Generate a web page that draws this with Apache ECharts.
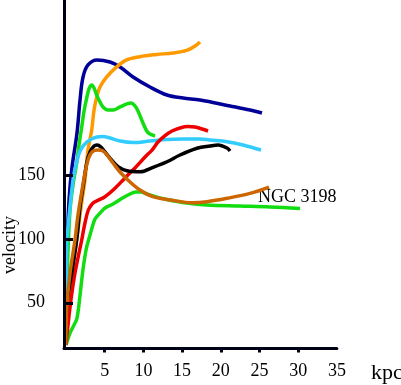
<!DOCTYPE html>
<html>
<head>
<meta charset="utf-8">
<script src="https://cdn.jsdelivr.net/npm/echarts@6/dist/echarts.min.js"></script>
<style>
html,body{margin:0;padding:0;background:#fff;}
#chart{width:401px;height:385px;}
</style>
</head>
<body>
<div id="chart"></div>
<script>
// Tick labels
const xTickValues = [5, 10, 15, 20, 25, 30];
const xLabelValues = [5, 10, 15, 20, 25, 30, 35];
const yTickValues = [50, 100, 150];
const yLabelValues = [50, 100, 150];

// Rotation curves: [radius kpc, velocity]
const navyCurve = [[0,16.7],[0.02,52.1],[0.13,91.5],[0.39,131],[0.78,157],[1.42,183.6],[1.81,209.6],[2.2,227.7],[2.84,237.2],[4.01,241.1],[5.68,239.5],[6.98,235.6],[8.66,227.7],[10.85,219.8],[13.05,213.5],[15.12,211.1],[17.31,209.6],[21.19,204.9],[23.77,201.7],[25.32,199.4]];
const orangeCurve = [[0,16.7],[0.26,52.1],[0.9,79.7],[1.55,107.2],[2.07,130.9],[2.45,146.6],[2.84,170.2],[3.32,186.0],[3.62,201.7],[3.97,212.0],[4.39,219.8],[5.26,227.7],[6.55,235.6],[7.84,241.1],[9.56,243.7],[11.72,245.4],[13.82,246.6],[15.59,248.6],[16.67,252.1],[17.31,255.3]];
const greenUpperCurve = [[0,16.7],[0.06,52.1],[0.26,91.5],[0.52,123.0],[0.9,142.7],[1.38,160.0],[1.68,174.2],[2.03,188.3],[2.33,200.9],[2.67,211.1],[2.97,218.3],[3.32,221.4],[3.62,219.1],[4.01,212.8],[4.39,208.0],[4.78,204.1],[5.43,201.7],[6.07,201.7],[6.98,204.1],[7.88,206.5],[8.40,207.2],[8.91,204.9],[9.30,200.9],[9.78,193.9],[10.43,185.2],[10.85,182.8],[11.50,181.3]];
const greenLowerCurve = [[0,16.7],[0.52,26.2],[1.03,32.4],[1.42,38.0],[1.74,52.1],[2.03,67.9],[2.33,82.0],[2.67,93.9],[3.10,103.3],[3.75,115.9],[4.39,120.6],[5.04,124.6],[6.07,127.7],[7.19,132.0],[8.01,134.8],[9.04,137.2],[9.69,137.2],[10.43,135.6],[11.50,133.6],[13.01,131.3],[15.59,128.5],[18.17,126.9],[22.48,126.1],[26.36,125.4],[30.23,124.2]];
const brownCurve = [[0,16.7],[0.1,46.6],[0.52,73.4],[1.16,99.4],[1.55,119.1],[2.07,138.7],[2.45,152.1],[2.84,162.4],[3.36,168.7],[4.13,170.2],[4.78,169.4],[5.30,166.3],[6.07,160.0],[6.98,152.9],[8.27,145.0],[9.56,138.7],[11.24,133.5],[13.44,130.9],[16.41,128.7],[18.22,129.5],[20.80,132.2],[23.77,136.1],[26.23,141.1]];
const blackCurve = [[0,16.7],[0.09,46.6],[0.74,73.4],[1.38,99.4],[1.81,125.4],[2.24,142.7],[2.67,160.0],[3.10,168.7],[3.62,173.4],[4.01,174.2],[4.52,172.6],[5.04,168.7],[5.68,163.9],[6.72,157.1],[7.88,153.9],[9.56,153.1],[11.24,156.6],[13.05,161.0],[14.73,166.3],[16.93,171.6],[18.60,173.4],[19.64,174.2],[20.80,171.8],[21.19,169.4]];
const cyanCurve = [[0,16.7],[0.03,52.1],[0.09,95.4],[0.52,125.4],[0.94,148.2],[1.29,158.4],[1.81,169.4],[2.67,176.5],[3.97,180.5],[4.78,180.9],[5.68,179.7],[6.98,177.3],[8.66,176.1],[10.85,177.3],[13.05,178.5],[15.12,178.9],[17.31,178.9],[18.60,178.1],[20.80,176.8],[22.87,174.2],[25.19,170.2]];
const redCurve = [[0,16.7],[0.52,46.6],[1.16,73.4],[2.03,99.4],[2.45,112.8],[2.88,123.0],[3.36,127.7],[3.75,129.5],[5.04,133.5],[6.33,140.1],[7.62,148.2],[8.91,156.1],[10.21,164.7],[11.11,170.2],[11.89,176.5],[12.79,181.6],[13.70,185.2],[14.73,187.6],[15.76,188.7],[16.67,188.3],[17.57,186.8],[18.35,185.2]];

const curveNames = ['navy','orange','greenUpper','greenLower','cyan','red','black','brown'];
const curveData = [navyCurve, orangeCurve, greenUpperCurve, greenLowerCurve, cyanCurve, redCurve, blackCurve, brownCurve];
const curveColors = ['#000099','#ff9900','#11dd11','#11dd11','#33ccff','#ee0000','#000000','#cc6600'];

const axisColor = '#000014';
const serif = 'Liberation Serif, Times New Roman, serif';

const chart = echarts.init(document.getElementById('chart'), null, {renderer:'canvas'});
chart.setOption({
  animation: false,
  backgroundColor: '#ffffff',
  grid: {left: 64, right: 64.1, top: 0, bottom: 36.5, containLabel: false},
  xAxis: {
    type: 'value', min: -0.26, max: 35, z: 20,
    splitLine: {show: false},
    axisLine: {show: true, onZero: false, lineStyle: {color: axisColor, width: 3}},
    axisTick: {show: true, customValues: xTickValues, length: 4, lineStyle: {color: axisColor, width: 3}},
    axisLabel: {show: true, customValues: xLabelValues, margin: 14, color: '#000', fontFamily: serif, fontSize: 18}
  },
  yAxis: {
    type: 'value', min: 14, max: 288.3, z: 20,
    splitLine: {show: false},
    axisLine: {show: true, onZero: false, lineStyle: {color: axisColor, width: 3}},
    axisTick: {show: true, inside: true, customValues: yTickValues, length: 9, lineStyle: {color: axisColor, width: 3}},
    axisLabel: {show: true, customValues: yLabelValues, margin: 19, color: '#000', fontFamily: serif, fontSize: 18}
  },
  series: curveData.map((d, i) => ({
    name: curveNames[i], type: 'line', data: d, smooth: 0.35, symbol: 'none',
    lineStyle: {color: curveColors[i], width: 3.5}, z: 2 + i
  })),
  graphic: [
    {type: 'text', x: 10, y: 245, rotation: Math.PI / 2,
     style: {text: 'velocity', fontFamily: serif, fontSize: 18, fill: '#000', textAlign: 'center', textVerticalAlign: 'middle'}},
    {type: 'text', x: 387, y: 373,
     style: {text: 'kpc', fontFamily: serif, fontSize: 22, fill: '#000', textAlign: 'center', textVerticalAlign: 'middle'}},
    {type: 'text', x: 258, y: 197,
     style: {text: 'NGC 3198', fontFamily: serif, fontSize: 18, fill: '#000', textAlign: 'left', textVerticalAlign: 'middle'}}
  ]
});
</script>
</body>
</html>
